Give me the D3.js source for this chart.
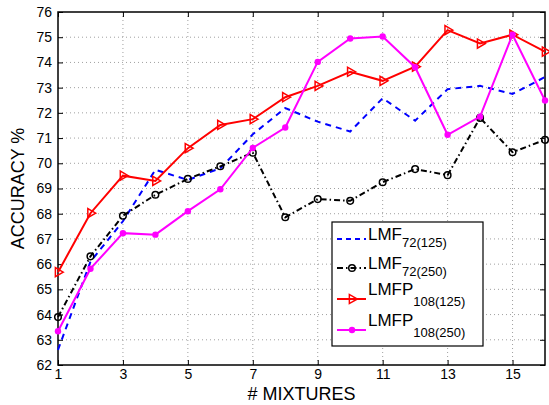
<!DOCTYPE html>
<html>
<head>
<meta charset="utf-8">
<script src="https://d3js.org/d3.v7.min.js"></script>
<style>
  body { margin: 0; background: #fff; }
  svg { font-family: "Liberation Sans", Arial, sans-serif; }
</style>
</head>
<body>
<div id="plot"></div>
<script>
  var mixtures = d3.range(1, 17);
  var xTicks = [1, 3, 5, 7, 9, 11, 13, 15];
  var yTicks = d3.range(62, 77);

  var lmf125 = [62.6, 66.1, 67.7, 69.74, 69.34, 69.8, 71.15, 72.19, 71.65, 71.26, 72.58, 71.69, 72.94, 73.07, 72.75, 73.42];
  var lmf250 = [63.9, 66.31, 67.92, 68.75, 69.38, 69.88, 70.42, 67.86, 68.58, 68.51, 69.25, 69.77, 69.53, 71.8, 70.44, 70.93];
  var lmfp125 = [65.68, 68.02, 69.51, 69.3, 70.6, 71.52, 71.75, 72.62, 73.07, 73.63, 73.27, 73.83, 75.28, 74.75, 75.1, 74.43];
  var lmfp250 = [63.34, 65.82, 67.23, 67.17, 68.1, 68.97, 70.61, 71.42, 74.02, 74.95, 75.03, 73.81, 71.13, 71.85, 75.1, 72.49];

  var series = [
    {name: "LMF", sub: "72(125)", values: lmf125, color: "#0000ff", dash: "6,5", marker: "none"},
    {name: "LMF", sub: "72(250)", values: lmf250, color: "#000000", dash: "6,3,1.5,3", marker: "circle"},
    {name: "LMFP", sub: "108(125)", values: lmfp125, color: "#ff0000", dash: null, marker: "triangle"},
    {name: "LMFP", sub: "108(250)", values: lmfp250, color: "#ff00ff", dash: null, marker: "dot"}
  ];

  var W = 549, H = 405;
  var margin = {top: 12, right: 4, bottom: 40, left: 58};
  var width = W - margin.left - margin.right,
      height = H - margin.top - margin.bottom;

  var svg = d3.select("#plot").append("svg")
      .attr("width", W)
      .attr("height", H);

  var x = d3.scaleLinear().domain([1, 16]).range([0, width]),
      y = d3.scaleLinear().domain([62, 76]).range([height, 0]);

  var g = svg.append("g")
    .attr("transform", "translate(" + margin.left + "," + margin.top + ")");

  // grid
  g.append("g").selectAll("line.gx")
    .data(xTicks.slice(1))
    .enter().append("line")
      .attr("x1", function(d) { return x(d); })
      .attr("x2", function(d) { return x(d); })
      .attr("y1", 0).attr("y2", height)
      .attr("stroke", "#888").attr("stroke-width", 0.8)
      .attr("stroke-dasharray", "1,3");
  g.append("g").selectAll("line.gy")
    .data(yTicks.slice(1, -1))
    .enter().append("line")
      .attr("y1", function(d) { return y(d); })
      .attr("y2", function(d) { return y(d); })
      .attr("x1", 0).attr("x2", width)
      .attr("stroke", "#888").attr("stroke-width", 0.8)
      .attr("stroke-dasharray", "1,3");

  // axes (matlab style: inner ticks on all sides)
  var xAxis = d3.axisBottom(x).tickValues(xTicks).tickSizeInner(-5).tickSizeOuter(0).tickPadding(6);
  var yAxis = d3.axisLeft(y).tickValues(yTicks).tickSizeInner(-5).tickSizeOuter(0).tickPadding(6);

  var xa = g.append("g").attr("transform", "translate(0," + height + ")").call(xAxis);
  var ya = g.append("g").call(yAxis);
  g.append("g").call(d3.axisTop(x).tickValues(xTicks).tickSizeInner(-5).tickSizeOuter(0).tickFormat(""));
  g.append("g").attr("transform", "translate(" + width + ",0)")
    .call(d3.axisRight(y).tickValues(yTicks).tickSizeInner(-5).tickSizeOuter(0).tickFormat(""));

  g.selectAll(".domain").remove();
  g.selectAll(".tick line").attr("stroke", "#000");
  [xa, ya].forEach(function(a) {
    a.selectAll("text").attr("font-size", 14).attr("fill", "#000")
      .attr("font-family", "Liberation Sans, Arial, sans-serif");
  });
  xa.selectAll("text").attr("dy", "0.6em");

  g.append("rect")
    .attr("width", width).attr("height", height)
    .attr("fill", "none").attr("stroke", "#000").attr("stroke-width", 1.5);

  var line = d3.line()
    .x(function(d, i) { return x(mixtures[i]); })
    .y(function(d) { return y(d); });

  var tri = d3.symbol().type(d3.symbolTriangle).size(36);

  function drawMarker(sel, s) {
    if (s.marker === "circle") {
      sel.append("circle").attr("r", 3.3)
        .attr("fill", "none").attr("stroke", s.color).attr("stroke-width", 1.5);
    } else if (s.marker === "dot") {
      sel.append("circle").attr("r", 3.2).attr("fill", s.color);
    } else if (s.marker === "triangle") {
      sel.append("path").attr("d", tri)
        .attr("transform", "rotate(90)")
        .attr("fill", "none").attr("stroke", s.color).attr("stroke-width", 1.5);
    }
  }

  var plotArea = g.append("g");
  series.forEach(function(s) {
    plotArea.append("path")
      .datum(s.values)
      .attr("d", line)
      .attr("fill", "none")
      .attr("stroke", s.color)
      .attr("stroke-width", 2)
      .attr("stroke-dasharray", s.dash);
    plotArea.selectAll(null)
      .data(s.values)
      .enter().append("g")
        .attr("transform", function(d, i) { return "translate(" + x(mixtures[i]) + "," + y(d) + ")"; })
        .each(function() { drawMarker(d3.select(this), s); });
  });

  // legend
  var legendRows = [239, 268, 299, 330];
  var lg = svg.append("g").attr("transform", "translate(332,222)");
  lg.append("rect").attr("width", 151).attr("height", 124)
    .attr("fill", "#fff").attr("stroke", "#000").attr("stroke-width", 1.2);
  series.forEach(function(s, i) {
    var row = lg.append("g").attr("transform", "translate(0," + (legendRows[i] - 222) + ")");
    row.append("line").attr("x1", 5).attr("x2", 34).attr("y1", 0).attr("y2", 0)
      .attr("stroke", s.color).attr("stroke-width", 2)
      .attr("stroke-dasharray", s.dash ? (s.marker === "none" ? "5,4" : s.dash) : null);
    var m = row.append("g").attr("transform", "translate(20,0)");
    drawMarker(m, s);
    var t = row.append("text").attr("x", 36).attr("y", i < 2 ? 1 : -4)
      .attr("font-size", 17).attr("fill", "#000");
    t.append("tspan").text(s.name);
    t.append("tspan").attr("dy", i < 2 ? 7 : 11).attr("font-size", 13).text(s.sub);
  });

  // labels
  svg.append("text")
    .attr("x", margin.left + width / 2).attr("y", 400)
    .attr("text-anchor", "middle").attr("font-size", 18)
    .text("# MIXTURES");
  svg.append("text")
    .attr("transform", "translate(24," + (margin.top + height / 2) + ") rotate(-90)")
    .attr("text-anchor", "middle").attr("font-size", 18)
    .text("ACCURACY %");
</script>
</body>
</html>
